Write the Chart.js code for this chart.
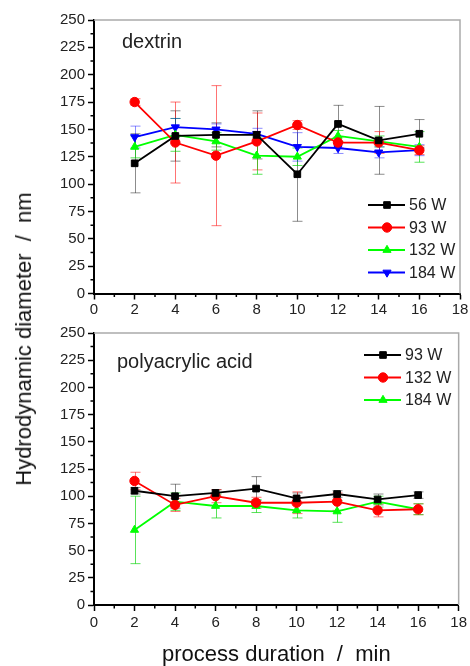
<!DOCTYPE html>
<html>
<head>
<meta charset="utf-8">
<script src="https://cdn.jsdelivr.net/npm/chart.js@4.4.1/dist/chart.umd.min.js"></script>
<style>
    body { margin: 0; background: #fff; width: 470px; height: 666px; position: relative; overflow: hidden;
           font-family: "Liberation Sans", Arial, sans-serif; }
    #topChart { position: absolute; left: 0; top: 0; }
    #botChart { position: absolute; left: 0; top: 312px; }
    #yTitle { position: absolute; left: 24px; top: 339px; transform: translate(-50%, -50%) rotate(-90deg);
              white-space: pre; font-size: 22px; color: #111; }
</style>
</head>
<body>
<canvas id="topChart" width="470" height="330"></canvas>
<canvas id="botChart" width="470" height="354"></canvas>
<div id="yTitle">Hydrodynamic diameter  /  nm</div>
<script>
// process duration (min)
var durations = [2, 4, 6, 8, 10, 12, 14, 16];

// dextrin panel
var dextrin56  = [119, 144, 145, 145, 109, 155, 140, 146];
var dextrin56Err  = [27, 23, 11, 22, 43, 17, 31, 13];
var dextrin93  = [175, 138, 126, 139, 154, 138, 138, 131];
var dextrin93Err  = [3, 37, 64, 26, 4, 5, 10, 4];
var dextrin132 = [134, 145, 139, 126, 125, 144, 139, 134];
var dextrin132Err = [10, 15, 8, 17, 8, 5, 5, 14];
var dextrin184 = [143, 152, 150, 146, 134, 133, 129, 131];
var dextrin184Err = [10, 8, 5, 5, 13, 5, 5, 5];

// polyacrylic acid panel
var paa93  = [105, 100, 103, 107, 98, 102, 97, 101];
var paa93Err  = [3, 11, 3, 11, 5, 3, 5, 3];
var paa132 = [114, 92, 100, 94, 94, 95, 87, 88];
var paa132Err = [8, 6, 6, 5, 10, 8, 6, 5];
var paa184 = [69, 95, 91, 91, 87, 86, 95, 88];
var paa184Err = [31, 8, 11, 6, 7, 10, 5, 5];

var xTicks = [0, 2, 4, 6, 8, 10, 12, 14, 16, 18];
var yTicks = [0, 25, 50, 75, 100, 125, 150, 175, 200, 225, 250];

var BLACK = { line: '#000000', err: 'rgba(0,0,0,0.45)' };
var RED   = { line: '#ff0000', err: 'rgba(255,0,0,0.55)' };
var GREEN = { line: '#00ff00', err: 'rgba(0,210,0,0.65)' };
var BLUE  = { line: '#0000ff', err: 'rgba(0,0,255,0.45)' };

function series(label, values, errors, col, style, rot) {
    return {
        label: label,
        data: durations.map(function (d, i) { return { x: d, y: values[i] }; }),
        errors: errors,
        errorColor: col.err,
        borderColor: col.line,
        backgroundColor: col.line,
        borderWidth: 1.8,
        pointStyle: style,
        rotation: rot || 0,
        pointRadius: 4.7,
        pointBorderWidth: 1,
        tension: 0
    };
}

var errorBars = {
    id: 'errorBars',
    beforeDatasetsDraw: function (chart) {
        var ctx = chart.ctx, xs = chart.scales.x, ys = chart.scales.y;
        chart.data.datasets.forEach(function (ds) {
            ctx.save();
            ctx.strokeStyle = ds.errorColor;
            ctx.lineWidth = 1;
            ds.data.forEach(function (p, j) {
                var x = Math.round(xs.getPixelForValue(p.x)) + 0.5;
                var y1 = ys.getPixelForValue(p.y + ds.errors[j]);
                var y2 = ys.getPixelForValue(p.y - ds.errors[j]);
                ctx.beginPath();
                ctx.moveTo(x, y1); ctx.lineTo(x, y2);
                ctx.moveTo(x - 5, y1); ctx.lineTo(x + 5, y1);
                ctx.moveTo(x - 5, y2); ctx.lineTo(x + 5, y2);
                ctx.stroke();
            });
            ctx.restore();
        });
    }
};

var frame = {
    id: 'frame',
    afterDraw: function (chart, args, opts) {
        var a = chart.chartArea, ctx = chart.ctx, xs = chart.scales.x, ys = chart.scales.y;
        ctx.save();
        // top / right frame
        ctx.strokeStyle = '#aaa';
        ctx.lineWidth = 1.5;
        ctx.beginPath();
        ctx.moveTo(a.left, a.top); ctx.lineTo(a.right, a.top); ctx.lineTo(a.right, a.bottom);
        ctx.stroke();
        // minor ticks
        ctx.strokeStyle = '#000';
        ctx.lineWidth = 1.5;
        ctx.beginPath();
        for (var v = 1; v < 18; v += 2) {
            var x = xs.getPixelForValue(v);
            ctx.moveTo(x, a.bottom); ctx.lineTo(x, a.bottom + 3.5);
        }
        for (var w = 12.5; w < 250; w += 25) {
            var y = ys.getPixelForValue(w);
            ctx.moveTo(a.left, y); ctx.lineTo(a.left - 3.5, y);
        }
        ctx.stroke();
        // panel label
        ctx.fillStyle = '#222';
        ctx.font = '20px "Liberation Sans", Arial, sans-serif';
        ctx.textBaseline = 'alphabetic';
        ctx.fillText(opts.label, opts.labelX, opts.labelY);
        // legend
        ctx.font = '16px "Liberation Sans", Arial, sans-serif';
        ctx.textBaseline = 'middle';
        chart.data.datasets.forEach(function (ds, i) {
            var ly = opts.legendY + i * opts.legendRow;
            ctx.strokeStyle = ds.borderColor;
            ctx.fillStyle = ds.backgroundColor;
            ctx.lineWidth = 1.8;
            ctx.beginPath();
            ctx.moveTo(opts.legendX, ly); ctx.lineTo(opts.legendX + 37, ly);
            ctx.stroke();
            ctx.lineWidth = 1;
            Chart.helpers.drawPoint(ctx, { pointStyle: ds.pointStyle, rotation: ds.rotation, radius: 4.7, borderWidth: 1 },
                opts.legendX + 19, ly);
            ctx.fillStyle = '#222';
            ctx.fillText(ds.label, opts.legendX + 41, ly + 1);
        });
        ctx.restore();
    }
};

function axes(bottomHeight, withTitle, tickPad) {
    return {
        x: {
            type: 'linear', min: 0, max: 18,
            afterBuildTicks: function (s) { s.ticks = xTicks.map(function (v) { return { value: v }; }); },
            ticks: { color: '#222', font: { size: 15, family: '"Liberation Sans", Arial' }, padding: tickPad, maxRotation: 0 },
            grid: { drawOnChartArea: false, tickLength: 6, tickColor: '#000', tickWidth: 1.5 },
            border: { color: '#000', width: 2 },
            title: {
                display: withTitle, text: 'process duration  /  min', color: '#111',
                font: { size: 22, family: '"Liberation Sans", Arial', lineHeight: 1 }, padding: 0
            },
            afterFit: function (s) { s.height = bottomHeight; }
        },
        y: {
            type: 'linear', min: 0, max: 250,
            afterBuildTicks: function (s) { s.ticks = yTicks.map(function (v) { return { value: v }; }); },
            ticks: { color: '#222', font: { size: 15, family: '"Liberation Sans", Arial' }, padding: 3 },
            grid: { drawOnChartArea: false, tickLength: 6, tickColor: '#000', tickWidth: 1.5 },
            border: { color: '#000', width: 2 },
            afterFit: function (s) { s.width = 94; }
        }
    };
}

new Chart(document.getElementById('topChart'), {
    type: 'line',
    data: {
        datasets: [
            series('56 W', dextrin56, dextrin56Err, BLACK, 'rect'),
            series('93 W', dextrin93, dextrin93Err, RED, 'circle'),
            series('132 W', dextrin132, dextrin132Err, GREEN, 'triangle'),
            series('184 W', dextrin184, dextrin184Err, BLUE, 'triangle', 180)
        ]
    },
    options: {
        responsive: false, animation: false,
        layout: { padding: { left: 0, top: 20, right: 10, bottom: 0 } },
        plugins: {
            legend: { display: false }, tooltip: { enabled: false },
            frame: { label: 'dextrin', labelX: 122, labelY: 48, legendX: 368, legendY: 205, legendRow: 22.5 }
        },
        scales: axes(330 - 293.5, false, 1)
    },
    plugins: [errorBars, frame]
});

new Chart(document.getElementById('botChart'), {
    type: 'line',
    data: {
        datasets: [
            series('93 W', paa93, paa93Err, BLACK, 'rect'),
            series('132 W', paa132, paa132Err, RED, 'circle'),
            series('184 W', paa184, paa184Err, GREEN, 'triangle')
        ]
    },
    options: {
        responsive: false, animation: false,
        layout: { padding: { left: 0, top: 21, right: 10, bottom: 0 } },
        plugins: {
            legend: { display: false }, tooltip: { enabled: false },
            frame: { label: 'polyacrylic acid', labelX: 117, labelY: 55.5, legendX: 364, legendY: 43, legendRow: 22.5 }
        },
        scales: axes(354 - 293, true, 3)
    },
    plugins: [errorBars, frame]
});
</script>
</body>
</html>
